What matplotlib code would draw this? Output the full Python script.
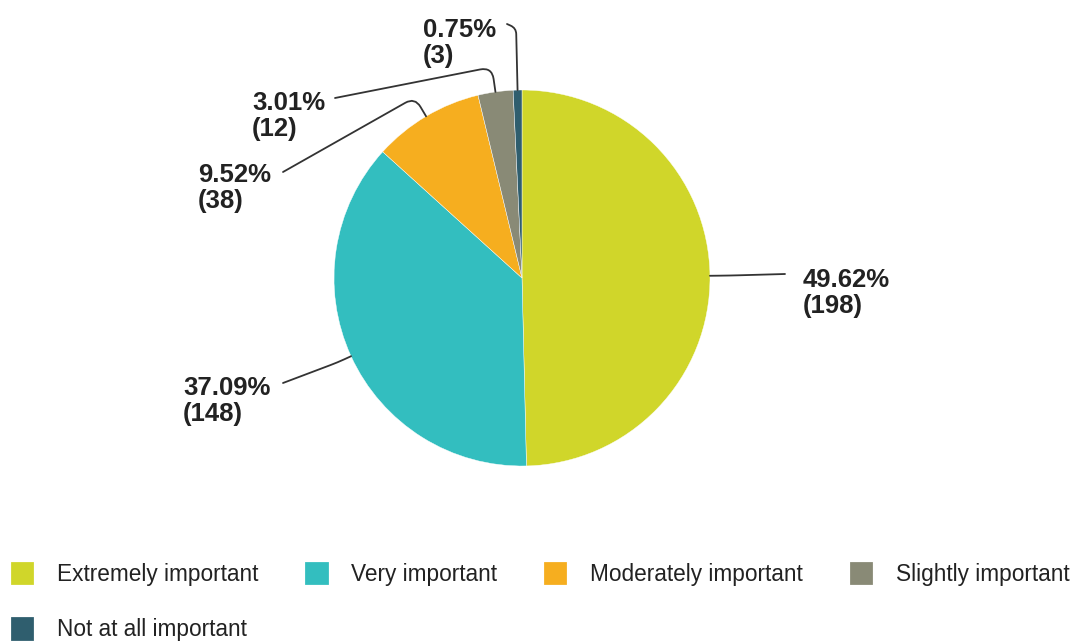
import numpy as np
import matplotlib.pyplot as plt
from matplotlib.path import Path
from matplotlib.patches import PathPatch, Patch

# Data
categories = ["Extremely important", "Very important", "Moderately important",
              "Slightly important", "Not at all important"]
counts = [198, 148, 38, 12, 3]
percents = [49.62, 37.09, 9.52, 3.01, 0.75]
colors = ["#D0D62A", "#33BEBF", "#F6AE1F", "#898A76", "#2F5E6E"]

W, H = 1081, 642

def px(x, y):
    # pixel coords (top-left origin) -> data coords
    return np.array([x, H - y], dtype=float)

# Layout (pixels)
center = px(522, 278)
radius = 188
text_pos = [(803, 267), (183, 375), (198, 162), (252, 90), (423, 17)]   # left, cap top
anchors = [(785, 274), (283, 383), (283, 172), (335, 98), (507, 24)]   # leader end
elbows = [20, 15, 22, 25, 62]

fig = plt.figure(figsize=(W / 100, H / 100), dpi=100)
ax = fig.add_axes([0, 0, 1, 1])

wedges, _ = ax.pie(counts, colors=colors, startangle=90, counterclock=False,
                   center=tuple(center), radius=radius,
                   wedgeprops=dict(edgecolor="white", linewidth=0.3))
ax.set_xlim(0, W)
ax.set_ylim(0, H)
ax.set_aspect("equal")
ax.axis("off")

for w, pct, n, tp, an, L in zip(wedges, percents, counts, text_pos, anchors, elbows):
    t = np.deg2rad((w.theta1 + w.theta2) / 2)
    u = np.array([np.cos(t), np.sin(t)])
    p0 = center + radius * u
    p1 = p0 + u * L
    a = px(*an)
    d = a - p1
    dl = np.linalg.norm(d)
    r = min(12, dl * 0.6, L * 0.5)
    verts = [p0, p1 - u * r, p1, p1 + d / dl * r, a]
    codes = [Path.MOVETO, Path.LINETO, Path.CURVE3, Path.CURVE3, Path.LINETO]
    ax.add_patch(PathPatch(Path(verts, codes), fill=False, edgecolor="#333333",
                           linewidth=1.3, capstyle="round"))
    tx, ty = px(tp[0], tp[1] + 1)
    ax.text(tx, ty, f"{pct:.2f}%\n({n})", ha="left", va="top",
            fontsize=18.5, fontweight="bold", family="Liberation Sans",
            color="#222222", linespacing=1.1)

# legend fills column by column, so order for row-major look
order = [0, 4, 1, 2, 3]
handles = [Patch(facecolor=colors[i], edgecolor=colors[i], linewidth=2,
                 joinstyle="round") for i in order]
fig.legend(handles, [categories[i] for i in order], loc="upper left",
           bbox_to_anchor=(12 / W, 1 - 563 / H), ncol=4, frameon=False,
           prop=dict(family="Liberation Sans", size=16.3),
           handlelength=0.9, handleheight=1.0, handletextpad=1.1,
           columnspacing=2.1, labelspacing=1.42, borderpad=0, borderaxespad=0,
           labelcolor="#222222")

fig.savefig("out.png", dpi=100)
